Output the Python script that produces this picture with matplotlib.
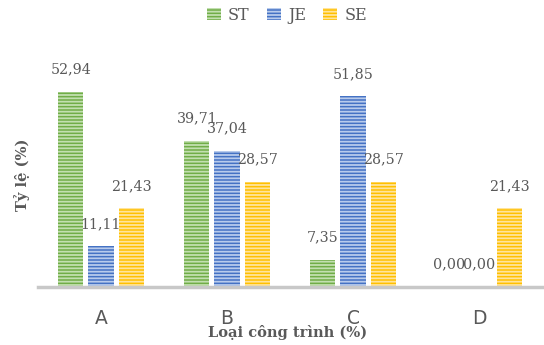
import matplotlib.pyplot as plt
import numpy as np

categories = ['A', 'B', 'C', 'D']
series_names = ['ST', 'JE', 'SE']
st_values = [52.94, 39.71, 7.35, 0.00]
je_values = [11.11, 37.04, 51.85, 0.00]
se_values = [21.43, 28.57, 28.57, 21.43]

colors = ['#70ad47', '#4472c4', '#ffc000']
stripe_colors = ['#c2dfb0', '#b8cbec', '#ffe49c']

plt.rcParams['hatch.linewidth'] = 1.3

fig = plt.figure(figsize=(5.44, 3.45), dpi=100)
ax = fig.add_axes([38 / 544, 1 - 287 / 345, 504 / 544, 221 / 345])

x = np.arange(len(categories))
width = 0.2
gap = 0.04
offsets = [-(width + gap), 0, width + gap]

for vals, name, c, sc, off in zip([st_values, je_values, se_values], series_names,
                                  colors, stripe_colors, offsets):
    bars = ax.bar(x + off, vals, width, color=c, edgecolor=sc, hatch='-----',
                  linewidth=0, label=name)
    for b, v in zip(bars, vals):
        ax.annotate('{:.2f}'.format(v).replace('.', ','),
                    xy=(b.get_x() + b.get_width() / 2, b.get_height()),
                    xytext=(0, 16), textcoords='offset points',
                    ha='center', va='center', fontsize=10.3,
                    family='DejaVu Serif', color='#595959')

ax.set_xlim(-0.5, 3.5)
ax.set_ylim(0, 60)
ax.set_yticks([])
ax.set_xticks(x)
ax.set_xticklabels(categories, fontsize=13.5, color='#595959', family='DejaVu Sans')
ax.tick_params(axis='x', length=0, pad=16)
for s in ['top', 'right', 'left']:
    ax.spines[s].set_visible(False)
ax.spines['bottom'].set_color('#c8c8c8')
ax.spines['bottom'].set_linewidth(2.5)

fig.text(288 / 544, 1 - 333 / 345, 'Loại công trình (%)', ha='center', va='center',
         fontsize=10.5, fontweight='bold', family='DejaVu Serif', color='#595959')
fig.text(22 / 544, 1 - 175 / 345, 'Tỷ lệ (%)', ha='center', va='center', rotation=90,
         fontsize=10.5, fontweight='bold', family='DejaVu Serif', color='#595959')

leg = fig.legend(loc='center', bbox_to_anchor=(287 / 544, 1 - 15 / 345), ncol=3,
                 frameon=False, handlelength=0.85, handleheight=0.85,
                 handletextpad=0.45, columnspacing=1.1,
                 prop={'family': 'DejaVu Serif', 'size': 11.5})
for t in leg.get_texts():
    t.set_color('#595959')

fig.savefig('out.png', dpi=100)
